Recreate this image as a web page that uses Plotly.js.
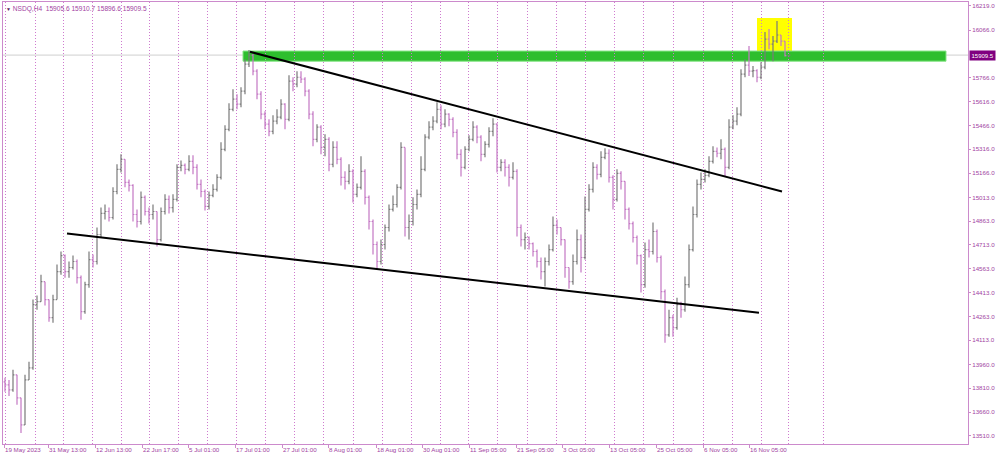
<!DOCTYPE html>
<html>
<head>
<meta charset="utf-8">
<script src="https://cdn.plot.ly/plotly-3.0.1.min.js"></script>
<style>html,body{margin:0;padding:0;background:#fff;}#chart{width:1000px;height:457px;}</style>
</head>
<body>
<div id="chart"></div>
<script>
// NSDQ H4 bars (each entry is one bar)
const open = [13851,13832,13800,13895,13750,13579,13863,13939,14337,14356,
14482,14369,14255,14369,14545,14646,14545,14571,14609,14507,
14293,14463,14621,14609,14779,14912,14924,14886,15050,15190,
15253,15107,15088,14905,14861,15013,14924,14905,14924,14747,
14924,15000,14949,15000,15202,15215,15190,15240,15202,15095,
15050,14956,15025,15063,15139,15316,15442,15568,15632,15600,
15682,15853,15909,15808,15663,15537,15474,15429,15493,15518,
15600,15505,15745,15726,15770,15758,15682,15537,15379,15455,
15328,15379,15221,15328,15253,15139,15114,15177,15032,15076,
15177,15013,14861,14716,14609,14716,14823,14937,14968,15076,
15328,14823,14861,14968,15032,15190,15392,15455,15493,15568,
15474,15537,15505,15423,15284,15202,15316,15379,15455,15392,
15284,15347,15429,15474,15202,15234,15202,15139,15177,14823,
14747,14760,14722,14672,14609,14545,14609,14684,14836,14823,
14747,14571,14482,14609,14747,14634,14937,15063,15202,15158,
15265,15291,15139,15000,15164,15114,14937,14848,14760,14646,
14463,14684,14672,14798,14634,14419,14147,14255,14192,14337,
14305,14463,14684,14905,15095,15126,15152,15240,15303,15291,
15316,15202,15455,15493,15537,15789,15846,15808,15812,15770,
15834,16010,15979,15998,16036,15998,15905.6];

const high = [13876,13863,13927,13895,13750,13895,13977,14369,14394,14526,
14482,14369,14400,14590,14672,14653,14609,14646,14621,14520,
14482,14672,14653,14823,14949,14968,14949,15076,15221,15284,
15253,15126,15095,14937,15050,15025,14949,14968,14924,14949,
15032,15025,15032,15221,15246,15227,15278,15278,15221,15126,
15063,15050,15095,15158,15360,15467,15606,15695,15663,15707,
15884,15941,15916,15821,15682,15556,15505,15530,15568,15632,
15606,15783,15770,15808,15808,15770,15695,15556,15474,15467,
15410,15392,15366,15366,15265,15177,15221,15190,15101,15272,
15190,15025,14874,14735,14747,14842,14968,15025,15095,15360,
15328,14905,15013,15063,15272,15410,15493,15524,15613,15594,
15568,15543,15518,15442,15316,15335,15404,15493,15467,15404,
15366,15455,15512,15480,15253,15253,15221,15234,15190,14842,
14792,14766,14728,14684,14634,14634,14716,14893,14874,14823,
14747,14571,14653,14811,14779,15019,15095,15234,15221,15303,
15322,15316,15152,15190,15177,15114,14949,14861,14773,14653,
14728,14747,14855,14811,14646,14432,14305,14274,14381,14356,
14514,14716,14956,15126,15170,15190,15272,15335,15328,15379,
15328,15505,15530,15581,15821,15884,15966,15840,15821,15865,
16055,16074,16029,16124,16036,15998,15910.7];

const low = [13788,13762,13788,13706,13529,13579,13863,13927,14305,14356,
14331,14230,14223,14369,14526,14507,14507,14558,14470,14242,
14280,14444,14571,14590,14760,14874,14861,14874,15032,15170,
15076,15050,14861,14823,14842,14899,14848,14874,14703,14735,
14905,14912,14918,14987,15177,15158,15177,15158,15063,15013,
14930,14937,15013,15050,15126,15303,15429,15556,15568,15581,
15663,15834,15783,15632,15505,15442,15398,15410,15474,15505,
15442,15493,15682,15707,15733,15650,15505,15335,15360,15284,
15272,15177,15202,15221,15088,15063,15095,14981,15013,15063,
14968,14811,14653,14558,14590,14684,14798,14924,14949,15063,
14766,14747,14836,14937,15013,15177,15379,15436,15480,15442,
15455,15461,15392,15253,15145,15190,15303,15366,15354,15240,
15265,15328,15398,15170,15177,15145,15082,15126,14766,14703,
14684,14684,14640,14571,14495,14451,14583,14672,14779,14710,
14507,14438,14463,14590,14539,14621,14924,15044,15126,15139,
15253,15107,14937,14987,15063,14874,14811,14728,14590,14413,
14444,14634,14653,14602,14369,14097,14135,14135,14179,14255,
14293,14444,14672,14886,15063,15107,15139,15227,15265,15253,
15145,15190,15442,15467,15524,15770,15777,15770,15739,15758,
15821,15947,15871,15985,15966,15900,15896.6];

const close = [13832,13800,13895,13750,13579,13863,13939,14337,14356,14482,
14369,14255,14369,14545,14646,14545,14571,14609,14507,14293,
14463,14621,14609,14779,14912,14924,14886,15050,15190,15253,
15107,15088,14905,14861,15013,14924,14905,14924,14747,14924,
15000,14949,15000,15202,15215,15190,15240,15202,15095,15050,
14956,15025,15063,15139,15316,15442,15568,15632,15600,15682,
15853,15909,15808,15663,15537,15474,15429,15493,15518,15600,
15505,15745,15726,15770,15758,15682,15537,15379,15455,15328,
15379,15221,15328,15253,15139,15114,15177,15032,15076,15177,
15013,14861,14716,14609,14716,14823,14937,14968,15076,15328,
14823,14861,14968,15032,15190,15392,15455,15493,15568,15474,
15537,15505,15423,15284,15202,15316,15379,15455,15392,15284,
15347,15429,15474,15202,15234,15202,15139,15177,14823,14747,
14760,14722,14672,14609,14545,14609,14684,14836,14823,14747,
14571,14482,14609,14747,14634,14937,15063,15202,15158,15265,
15291,15139,15000,15164,15114,14937,14848,14760,14646,14463,
14684,14672,14798,14634,14419,14147,14255,14192,14337,14305,
14463,14684,14905,15095,15126,15152,15240,15303,15291,15316,
15202,15455,15493,15537,15789,15846,15808,15812,15770,15834,
16010,15979,15998,16036,15998,15906,15909.5];

// Time-scale labels (bar number where each label starts)
const xTickBars = [-0.25,10.75,22.5,34.25,45.75,57.5,69.25,80.75,92.75,104.25,116,127.75,139.25,151,162.75,174.5,186];
const xTickLabels = ['19 May 2023','31 May 13:00','12 Jun 13:00','22 Jun 17:00','5 Jul 01:00','17 Jul 01:00','27 Jul 01:00','8 Aug 01:00','18 Aug 01:00','30 Aug 01:00','11 Sep 05:00','21 Sep 05:00','3 Oct 05:00','13 Oct 05:00','25 Oct 05:00','6 Nov 05:00','16 Nov 05:00'];
// Weekly period separators (bar numbers)
const weekSeparators = [0,7.5,14.5,21.75,29,36,43.25,50.5,57.75,65,72.25,79.5,87,94.25,101.5,108.75,115.75,123,130.5,137.75,145,152.25,159.5,167,174.5,181.75,189,195.75,204.5];
// Price scale labels
const yTickVals = [16219,16066,15766,15616,15466,15316,15166,15013,14863,14713,14563,14413,14263,14113,13960,13810,13660,13510];

// Drawn objects (bar number, price)
const upperTrendBars = [61.25,194.25];
const upperTrendPrices = [15930,15050];
const lowerTrendBars = [15.5,188.5];
const lowerTrendPrices = [14785,14286];
const resistanceBars = [59.5,235.25];
const resistancePrices = [15871,15935];
const highlightBars = [188,196.75];
const highlightPrices = [15928,16143];

const symbol = 'NSDQ,H4';
const lastBar = open.length - 1;
const barIndex = open.map((_, i) => i);

const purple = '#A23FA2';
const plum = '#CC8ACC';
const fontFam = 'Liberation Sans, Arial, sans-serif';

const trace = {
  type: 'ohlc',
  x: barIndex,
  open: open, high: high, low: low, close: close,
  increasing: {line: {color: '#7A7A7A', width: 1.2}},
  decreasing: {line: {color: '#C477C4', width: 1.2}},
  tickwidth: 0.35,
  hoverinfo: 'skip',
  showlegend: false
};

const shapes = [
  {type:'rect', xref:'x', yref:'y', x0:highlightBars[0], x1:highlightBars[1], y0:highlightPrices[0], y1:highlightPrices[1],
   fillcolor:'#FFFF00', line:{width:0}, layer:'below'},
  {type:'line', xref:'paper', yref:'y', x0:0, x1:1, y0:close[lastBar], y1:close[lastBar],
   line:{color:'#CFCFCF', width:1}, layer:'below'},
  {type:'rect', xref:'x', yref:'y', x0:resistanceBars[0], x1:resistanceBars[1], y0:resistancePrices[0], y1:resistancePrices[1],
   fillcolor:'#2DBE2D', line:{color:'#86E586', width:1}, layer:'below'},
  {type:'line', xref:'x', yref:'y', x0:upperTrendBars[0], x1:upperTrendBars[1], y0:upperTrendPrices[0], y1:upperTrendPrices[1],
   line:{color:'#000000', width:2}},
  {type:'line', xref:'x', yref:'y', x0:lowerTrendBars[0], x1:lowerTrendBars[1], y0:lowerTrendPrices[0], y1:lowerTrendPrices[1],
   line:{color:'#000000', width:2}}
];

const annotations = [
  {xref:'paper', yref:'paper', x:0, y:1, xanchor:'left', yanchor:'top', xshift:1, yshift:-1, showarrow:false,
   text:'<span style="font-size:5px;color:#5A1A5A">▼</span> ' + symbol + '  ' + open[lastBar].toFixed(1) + ' ' + high[lastBar].toFixed(1) + ' ' + low[lastBar].toFixed(1) + ' ' + close[lastBar].toFixed(1),
   font:{family:fontFam, size:6.6, color:purple}},
  {xref:'paper', yref:'y', x:1, y:close[lastBar], xanchor:'left', yanchor:'middle', xshift:1, showarrow:false,
   text:close[lastBar].toFixed(1), bgcolor:'#800080', borderpad:1.5,
   font:{family:fontFam, size:6, color:'#FFFFFF'}}
];

const layout = {
  width: 1000, height: 457,
  margin: {l:3, r:32, t:2, b:13, pad:0},
  paper_bgcolor: '#FFFFFF', plot_bgcolor: '#FFFFFF',
  showlegend: false,
  xaxis: {
    type: 'linear',
    range: [-0.5, 240.75],
    rangeslider: {visible: false},
    showgrid: false, zeroline: false,
    showline: true, linecolor: plum, linewidth: 1, mirror: true,
    tickmode: 'array', tickvals: xTickBars, ticktext: xTickLabels,
    tickangle: 0,
    ticks: 'outside', ticklen: 3, tickcolor: plum, tickwidth: 1,
    ticklabelposition: 'outside right',
    tickfont: {family: fontFam, size: 6.2, color: purple},
    automargin: false,
    minor: {tickmode: 'array', tickvals: weekSeparators, showgrid: true, gridcolor: '#CF7ACF', griddash: '1px,2px', gridwidth: 1, ticks: ''},
    fixedrange: true
  },
  yaxis: {
    side: 'right',
    range: [13459, 16244],
    showgrid: false, zeroline: false,
    showline: true, linecolor: plum, linewidth: 1, mirror: true,
    tickmode: 'array', tickvals: yTickVals, ticktext: yTickVals.map(v => v.toFixed(1)),
    ticks: 'outside', ticklen: 2, tickcolor: plum,
    tickfont: {family: fontFam, size: 6.2, color: purple},
    automargin: false,
    fixedrange: true
  },
  shapes: shapes,
  annotations: annotations
};

Plotly.newPlot('chart', [trace], layout, {staticPlot: true, displayModeBar: false});
</script>
</body>
</html>
